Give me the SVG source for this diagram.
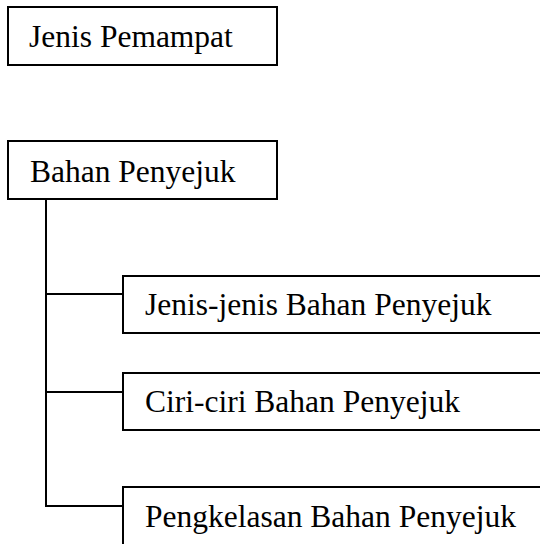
<svg xmlns="http://www.w3.org/2000/svg" width="540" height="544" viewBox="0 0 540 544">
<style>
.box{fill:#fff;stroke:#000;stroke-width:2}
.lbl{font-family:"Liberation Serif","Times New Roman",serif;font-size:31.5px;fill:#000}
.conn{fill:none;stroke:#000;stroke-width:2}
</style>
<rect width="540" height="544" fill="#fff"/>
<g id="node-jenis-pemampat"><rect class="box" x="8" y="7" width="269" height="58"/><text class="lbl" x="29" y="47">Jenis Pemampat</text></g>
<g id="node-bahan-penyejuk"><rect class="box" x="8" y="141" width="269" height="58"/><text class="lbl" x="30" y="182">Bahan Penyejuk</text></g>
<g id="node-jenis-jenis"><rect class="box" x="123" y="276" width="430" height="57"/><text class="lbl" x="145" y="315">Jenis-jenis Bahan Penyejuk</text></g>
<g id="node-ciri-ciri"><rect class="box" x="123" y="373" width="430" height="57"/><text class="lbl" x="145" y="412">Ciri-ciri Bahan Penyejuk</text></g>
<g id="node-pengkelasan"><rect class="box" x="123" y="487" width="430" height="70"/><text class="lbl" x="145" y="527">Pengkelasan Bahan Penyejuk</text></g>
<g id="connectors">
<path class="conn" d="M46 199 V506 H123"/>
<path class="conn" d="M46 294 H123"/>
<path class="conn" d="M46 392 H123"/>
</g>
</svg>
